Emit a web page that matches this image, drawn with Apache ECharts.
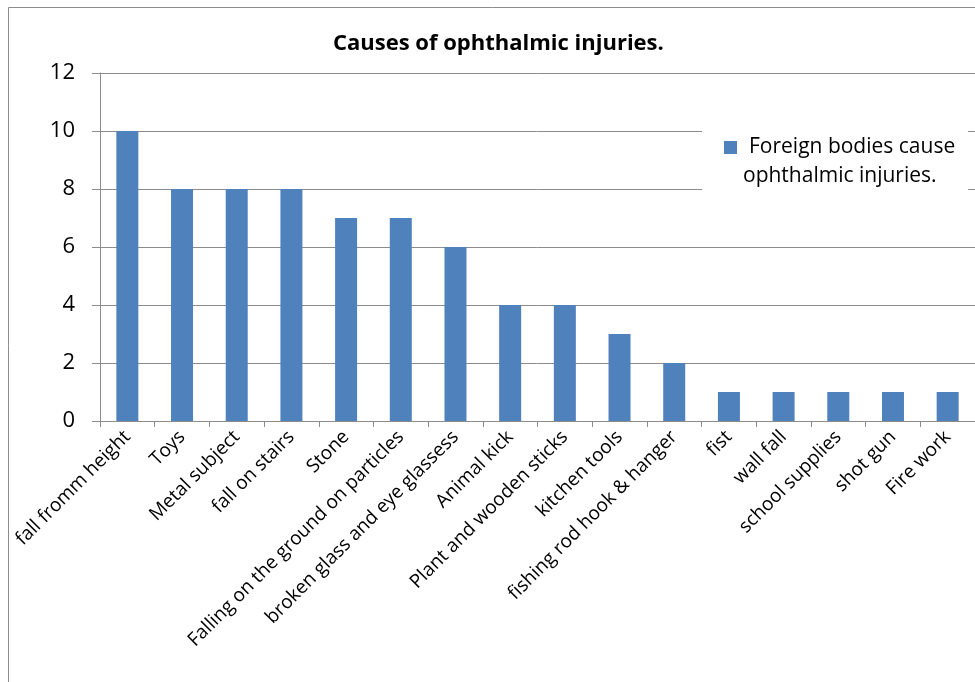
<!DOCTYPE html>
<html>
<head>
<meta charset="utf-8">
<script src="https://cdn.jsdelivr.net/npm/echarts@6/dist/echarts.min.js"></script>
<style>
html,body{margin:0;padding:0;background:#fff;}
#chart{width:975px;height:682px;}
</style>
</head>
<body>
<div id="chart"></div>
<script>
const categories = [
  "fall fromm height", "Toys", "Metal subject", "fall on stairs", "Stone",
  "Falling on the ground on particles", "broken glass and eye glassess",
  "Animal kick", "Plant and wooden sticks", "kitchen tools",
  "fishing rod hook & hanger", "fist", "wall fall", "school supplies",
  "shot gun", "Fire work"
];
const values = [10, 8, 8, 8, 7, 7, 6, 4, 4, 3, 2, 1, 1, 1, 1, 1];
const seriesName = "Foreign bodies cause ophthalmic injuries.";
const legendLines = ["Foreign bodies cause", "ophthalmic injuries."];
const titleText = "Causes of ophthalmic injuries.";
const yTicks = { min: 0, max: 12, interval: 2 };

const chart = echarts.init(document.getElementById('chart'), null, { renderer: 'canvas' });
const FONT = 'Open Sans';
chart.setOption({
  animation: false,
  backgroundColor: '#ffffff',
  graphic: [{
    type: 'rect',
    shape: { x: 8.5, y: 7.5, width: 1200, height: 1200 },
    style: { fill: 'none', stroke: '#8c8c8c', lineWidth: 1 },
    silent: true, z: -10
  }],
  title: {
    text: titleText,
    left: 333,
    top: 33,
    padding: 0,
    textStyle: { fontFamily: FONT, fontWeight: 'bold', fontSize: 22, color: '#000' }
  },
  legend: {
    show: true,
    left: 702,
    top: 104,
    orient: 'vertical',
    padding: [0, 13, 8, 22],
    backgroundColor: '#ffffff',
    itemWidth: 13,
    itemHeight: 13,
    icon: 'rect',
    z: 10,
    formatter: function () {
      return '{s| }\n{a|' + legendLines[0] + '}\n{b|' + legendLines[1] + '}';
    },
    textStyle: {
      fontFamily: FONT, fontSize: 21, color: '#000', lineHeight: 29,
      rich: {
        s: { fontFamily: FONT, fontSize: 21, lineHeight: 29 },
        a: { fontFamily: FONT, fontSize: 21, lineHeight: 29, color: '#000', padding: [0, 0, 0, 7] },
        b: { fontFamily: FONT, fontSize: 21, lineHeight: 29, color: '#000', padding: [0, 0, 0, 1] }
      }
    },
    data: [seriesName]
  },
  grid: { left: 100, top: 73, right: -5, bottom: 261, containLabel: false },
  xAxis: {
    type: 'category',
    data: categories,
    boundaryGap: true,
    axisLine: { lineStyle: { color: '#8c8c8c', width: 1 } },
    axisTick: { show: true, length: 6, lineStyle: { color: '#8c8c8c' } },
    axisLabel: { rotate: 45, interval: 0, margin: 13, fontFamily: FONT, fontSize: 19, color: '#000' },
    splitLine: { show: false }
  },
  yAxis: {
    type: 'value',
    min: yTicks.min, max: yTicks.max, interval: yTicks.interval,
    axisLine: { show: true, lineStyle: { color: '#8c8c8c', width: 1 } },
    axisTick: { show: true, length: 8, lineStyle: { color: '#8c8c8c' } },
    axisLabel: { margin: 25, fontFamily: FONT, fontSize: 22, color: '#000' },
    splitLine: { show: true, lineStyle: { color: '#8c8c8c', width: 1 } }
  },
  series: [{
    name: seriesName,
    type: 'bar',
    data: values,
    barWidth: 22,
    itemStyle: { color: '#4F81BD' }
  }]
});
</script>
</body>
</html>
